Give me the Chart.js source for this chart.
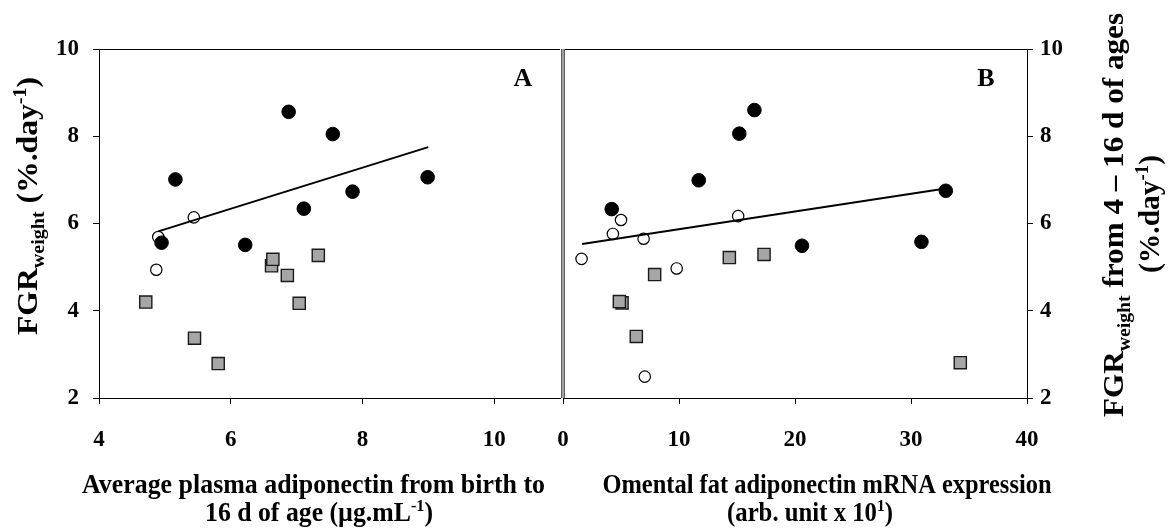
<!DOCTYPE html>
<html>
<head>
<meta charset="utf-8">
<script src="https://cdn.jsdelivr.net/npm/chart.js@4.4.1/dist/chart.umd.min.js"></script>
<style>
  html, body { margin: 0; padding: 0; background: #fff; }
  #wrap { position: relative; width: 1174px; height: 532px; overflow: hidden; }
  canvas { position: absolute; top: 0; }
  #panelA { left: 0; }
  #panelB { left: 500px; }
</style>
</head>
<body>
<div id="wrap">
  <canvas id="panelA" width="570" height="532"></canvas>
  <canvas id="panelB" width="674" height="532"></canvas>
</div>
<script>
// --- Panel A: average plasma adiponectin (µg/mL) vs FGR weight ---
const plasmaFilledX = [5.16, 6.88, 7.55, 8.99, 7.85, 7.11, 4.95, 6.22];
const plasmaFilledY = [7.01, 8.56, 8.05, 7.06, 6.73, 6.34, 5.56, 5.51];
const plasmaOpenX = [4.90, 5.44, 4.87];
const plasmaOpenY = [5.69, 6.14, 4.94];
const plasmaSquareX = [4.71, 5.45, 5.81, 6.62, 6.64, 6.86, 7.04, 7.33];
const plasmaSquareY = [4.20, 3.37, 2.79, 5.03, 5.18, 4.81, 4.17, 5.27];
const plasmaTrendX = [4.9, 9.0];
const plasmaTrendY = [5.82, 7.75];

// --- Panel B: omental fat adiponectin mRNA vs FGR weight ---
const mrnaFilledX = [4.2, 11.7, 15.2, 16.5, 20.6, 30.9, 33.0];
const mrnaFilledY = [6.33, 6.99, 8.06, 8.60, 5.49, 5.58, 6.75];
const mrnaOpenX = [1.6, 4.3, 5.0, 6.95, 9.8, 15.1, 7.05];
const mrnaOpenY = [5.19, 5.76, 6.08, 5.65, 4.97, 6.17, 2.49];
const mrnaSquareX = [5.09, 4.86, 6.32, 7.9, 14.34, 17.33, 34.25];
const mrnaSquareY = [4.18, 4.21, 3.41, 4.83, 5.22, 5.29, 2.81];
const mrnaTrendX = [1.65, 32.7];
const mrnaTrendY = [5.53, 6.79];

// axis ranges and tick labels
const plasmaRange = [4, 11];
const plasmaTicks = [4, 6, 8, 10];
const mrnaRange = [0, 40];
const mrnaTicks = [0, 10, 20, 30, 40];
const fgrRange = [2, 10];
const fgrTicks = [2, 4, 6, 8, 10];

const FONT = '"Liberation Serif", "Times New Roman", serif';
const PANEL_B_LEFT = 500; // page x of the second canvas

function toPoints(xs, ys) {
  return xs.map((x, i) => ({ x, y: ys[i] }));
}

// draws a line of text made of normal / sub / sup pieces, centred on (cx, baseline)
function drawRich(ctx, parts, cx, cy, opts) {
  const base = opts.size;
  const fontFor = r => `bold ${r ? Math.round(base * 0.64) : base}px ${FONT}`;
  let total = 0;
  const widths = parts.map(([t, r]) => {
    ctx.font = fontFor(r);
    const w = ctx.measureText(t).width;
    total += w;
    return w;
  });
  const sx = opts.width ? opts.width / total : 1;
  ctx.save();
  ctx.translate(cx, cy);
  if (opts.rotate) ctx.rotate(opts.rotate);
  ctx.scale(sx, 1);
  ctx.fillStyle = '#000';
  ctx.textBaseline = 'alphabetic';
  ctx.textAlign = 'left';
  let x = -total / 2;
  parts.forEach(([t, r], i) => {
    ctx.font = fontFor(r);
    const dy = r === 'sub' ? base * 0.22 : r === 'sup' ? -base * 0.36 : 0;
    ctx.fillText(t, x, dy);
    x += widths[i];
  });
  ctx.restore();
}

function fixedTicks(values) {
  return scale => { scale.ticks = values.map(v => ({ value: v })); };
}

const tickFont = { family: FONT, weight: 'bold', size: 23 };

function axisX(range, ticks) {
  return {
    type: 'linear',
    min: range[0],
    max: range[1],
    afterBuildTicks: fixedTicks(ticks),
    afterFit: s => { s.height = 134; },
    grid: { drawOnChartArea: false, drawTicks: true, tickLength: 6, color: '#000' },
    border: { display: true, color: '#000', width: 1 },
    ticks: { font: tickFont, color: '#000', padding: 22, maxRotation: 0, autoSkip: false }
  };
}

function axisY(position, width, padding) {
  return {
    type: 'linear',
    position,
    min: fgrRange[0],
    max: fgrRange[1],
    afterBuildTicks: fixedTicks(fgrTicks),
    afterFit: s => { s.width = width; },
    grid: { drawOnChartArea: false, drawTicks: true, tickLength: 6, color: '#000' },
    border: { display: true, color: '#000', width: 1 },
    ticks: { font: tickFont, color: '#000', padding, autoSkip: false }
  };
}

function datasets(trendX, trendY, filledX, filledY, openX, openY, sqX, sqY) {
  return [
    {
      data: toPoints(trendX, trendY), showLine: true, borderColor: '#000',
      borderWidth: 2, pointRadius: 0, fill: false
    },
    {
      data: toPoints(filledX, filledY), pointStyle: 'circle', pointRadius: 6.8,
      backgroundColor: '#000', borderColor: '#000', borderWidth: 1
    },
    {
      data: toPoints(openX, openY), pointStyle: 'circle', pointRadius: 5.7,
      backgroundColor: '#fff', borderColor: '#000', borderWidth: 1.2
    },
    {
      data: toPoints(sqX, sqY), pointStyle: 'rect', pointRadius: 8.6,
      backgroundColor: '#a6a6a6', borderColor: '#1a1a1a', borderWidth: 1.4
    }
  ];
}

// frame pieces and titles for each panel (text positions given in page x)
const framePlugin = {
  id: 'frame',
  afterDraw(chart, args, opts) {
    const { ctx, chartArea: a } = chart;
    const ox = opts.originX || 0;
    ctx.save();
    ctx.strokeStyle = '#000';
    ctx.lineWidth = 1;
    ctx.beginPath();
    ctx.moveTo(a.left, a.top + 0.5);
    ctx.lineTo(a.right, a.top + 0.5);
    ctx.stroke();
    if (opts.divider) {
      const x = a.left;
      ctx.fillStyle = '#a0a0a0';
      ctx.fillRect(x - 2, a.top, 4, a.bottom - a.top);
      ctx.fillStyle = '#606060';
      ctx.fillRect(x - 2, a.top, 1, a.bottom - a.top);
      ctx.fillRect(x + 1, a.top, 1, a.bottom - a.top);
    }
    ctx.restore();
    opts.texts.forEach(t => drawRich(ctx, t.parts, t.x - ox, t.y, t));
  }
};

Chart.defaults.animation = false;

new Chart(document.getElementById('panelA'), {
  type: 'scatter',
  data: {
    datasets: datasets(plasmaTrendX, plasmaTrendY, plasmaFilledX, plasmaFilledY,
      plasmaOpenX, plasmaOpenY, plasmaSquareX, plasmaSquareY)
  },
  options: {
    responsive: false,
    devicePixelRatio: 1,
    layout: { padding: { top: 49, right: 7, left: 0, bottom: 0 } },
    plugins: {
      legend: { display: false },
      tooltip: { enabled: false },
      frame: {
        texts: [
          { parts: [['FGR'], ['weight', 'sub'], [' (%.day'], ['-1', 'sup'], [')']],
            x: 37, y: 206, size: 30, width: 258, rotate: -Math.PI / 2 },
          { parts: [['Average plasma adiponectin from birth to']],
            x: 313.5, y: 493, size: 27, width: 463 },
          { parts: [['16 d of age (µg.mL'], ['-1', 'sup'], [')']],
            x: 319, y: 521, size: 27, width: 228 },
          { parts: [['A']], x: 523, y: 86, size: 26 }
        ]
      }
    },
    scales: {
      x: axisX(plasmaRange, plasmaTicks),
      y: axisY('left', 99, 14)
    }
  },
  plugins: [framePlugin]
});

new Chart(document.getElementById('panelB'), {
  type: 'scatter',
  data: {
    datasets: datasets(mrnaTrendX, mrnaTrendY, mrnaFilledX, mrnaFilledY,
      mrnaOpenX, mrnaOpenY, mrnaSquareX, mrnaSquareY)
  },
  options: {
    responsive: false,
    devicePixelRatio: 1,
    layout: { padding: { top: 49, right: 0, left: 563 - PANEL_B_LEFT, bottom: 0 } },
    plugins: {
      legend: { display: false },
      tooltip: { enabled: false },
      frame: {
        divider: true,
        originX: PANEL_B_LEFT,
        texts: [
          { parts: [['FGR'], ['weight', 'sub'], [' from 4 \u2013 16 d of ages']],
            x: 1123, y: 215, size: 30, width: 404, rotate: -Math.PI / 2 },
          { parts: [['(%.day'], ['-1', 'sup'], [')']],
            x: 1159, y: 214, size: 30, width: 118, rotate: -Math.PI / 2 },
          { parts: [['Omental fat adiponectin mRNA expression']],
            x: 827, y: 493, size: 27, width: 449 },
          { parts: [['(arb. unit x 10'], ['1', 'sup'], [')']],
            x: 810, y: 521, size: 27, width: 166 },
          { parts: [['B']], x: 986, y: 86, size: 26 }
        ]
      }
    },
    scales: {
      x: axisX(mrnaRange, mrnaTicks),
      y: axisY('right', 147, 7)
    }
  },
  plugins: [framePlugin]
});
</script>
</body>
</html>
